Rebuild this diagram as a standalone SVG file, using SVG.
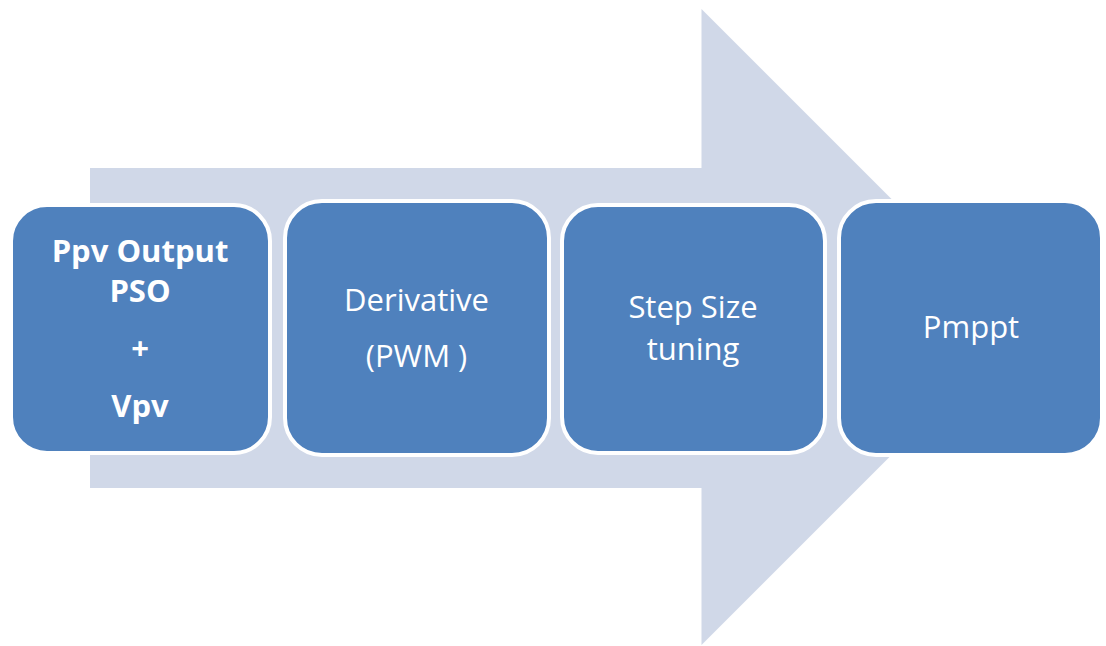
<svg xmlns="http://www.w3.org/2000/svg" width="1106" height="646" viewBox="0 0 1106 646">
<style>
.box{fill:#4F81BD;stroke:#FFFFFF;stroke-width:4}
.t{font-family:"Open Sans","Liberation Sans",sans-serif;font-size:31px;fill:#FFFFFF;text-anchor:middle}
.b{font-weight:bold;font-size:31px}
</style>
<rect width="1106" height="646" fill="#FFFFFF"/>
<g id="arrow">
<polygon points="90,168 701.5,168 701.5,9 1019.5,327 701.5,645 701.5,488 90,488" fill="#D0D8E8"/>
</g>
<g id="connectors"></g>
<g id="node1">
<rect class="box" x="11" y="205" width="259" height="248" rx="36"/>
<text class="t b" x="140" y="262">Ppv Output</text>
<text class="t b" x="140" y="302">PSO</text>
<text class="t b" x="140" y="359">+</text>
<text class="t b" x="140" y="417">Vpv</text>
</g>
<g id="node2">
<rect class="box" x="285" y="201" width="264" height="254" rx="37"/>
<text class="t" x="416.5" y="311">Derivative</text>
<text class="t" x="416.5" y="367">(PWM )</text>
</g>
<g id="node3">
<rect class="box" x="562" y="205" width="263" height="248" rx="36"/>
<text class="t" x="693" y="318">Step Size</text>
<text class="t" x="693" y="360">tuning</text>
</g>
<g id="node4">
<rect class="box" x="839" y="201" width="263" height="254" rx="37"/>
<text class="t" x="971" y="338">Pmppt</text>
</g>
</svg>
